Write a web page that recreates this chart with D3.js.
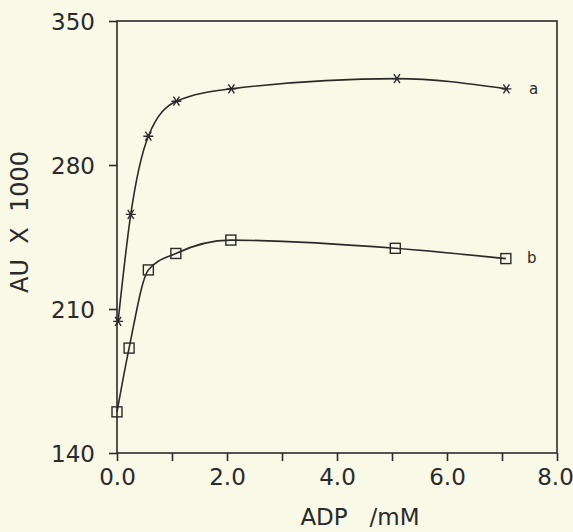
<!DOCTYPE html>
<html>
<head>
<meta charset="utf-8">
<script src="https://cdn.jsdelivr.net/npm/d3@7"></script>
<style>
  body { margin: 0; background: #f9f9e8; }
</style>
</head>
<body>
<div class="chart"></div>
<script>
// Data
const adpA = [0.02, 0.25, 0.57, 1.08, 2.08, 5.09, 7.08];
const auA  = [204, 256, 294, 311, 317, 322, 317];
const adpB = [0.0, 0.22, 0.57, 1.07, 2.07, 5.06, 7.07];
const auB  = [160, 191, 229, 237, 243.5, 239.5, 234.5];
const xTicks = [0, 2, 4, 6, 8];
const yTicks = [140, 210, 280, 350];

const width = 573;
const height = 532;
const margin = {top: 21, left: 117, right: 16, bottom: 79};

const xScale = d3.scaleLinear()
    .domain([0, 8])
    .range([margin.left, width - margin.right]);

const yScale = d3.scaleLinear()
    .domain([140, 350])
    .range([height - margin.bottom, margin.top]);

const svg = d3.select('.chart')
    .append('svg')
    .attr('width', width)
    .attr('height', height);

svg.append('rect')
    .attr('width', width)
    .attr('height', height)
    .attr('fill', '#f9f9e8');

const ink = '#2a2a2a';
const font = 'DejaVu Sans';

// axes
const xAxis = d3.axisBottom(xScale)
    .tickValues(d3.range(0, 9, 1))
    .tickSize(8)
    .tickFormat(d => xTicks.includes(d) ? d3.format('.1f')(d) : '');

const yAxis = d3.axisLeft(yScale)
    .tickValues(yTicks)
    .tickSize(8)
    .tickPadding(14);

const gx = svg.append('g')
    .attr('transform', `translate(0,${yScale(140)})`)
    .call(xAxis);

const gy = svg.append('g')
    .attr('transform', `translate(${xScale(0)},0)`)
    .call(yAxis);

[gx, gy].forEach(g => {
    g.select('.domain').remove();
    g.selectAll('line').attr('stroke', ink).attr('stroke-width', 1.6);
    g.selectAll('text')
        .attr('fill', ink)
        .attr('font-family', font)
        .attr('font-size', 23);
});
gx.selectAll('text').attr('dy', '0.95em').attr('y', 10);
gx.selectAll('text').filter(d => d === 8).attr('dx', -2);
gy.selectAll('text').attr('dy', '0.36em');

// frame
svg.append('rect')
    .attr('x', xScale(0))
    .attr('y', yScale(350))
    .attr('width', xScale(8) - xScale(0))
    .attr('height', yScale(140) - yScale(350))
    .attr('fill', 'none')
    .attr('stroke', ink)
    .attr('stroke-width', 1.6);

// curves
const line = d3.line()
    .x(d => xScale(d[0]))
    .y(d => yScale(d[1]))
    .curve(d3.curveMonotoneX);

const seriesA = adpA.map((x, i) => [x, auA[i]]);
const seriesB = adpB.map((x, i) => [x, auB[i]]);

svg.append('path')
    .datum(seriesA)
    .attr('d', line)
    .attr('fill', 'none')
    .attr('stroke', ink)
    .attr('stroke-width', 1.6);

svg.append('path')
    .datum(seriesB)
    .attr('d', line)
    .attr('fill', 'none')
    .attr('stroke', ink)
    .attr('stroke-width', 1.6);

// asterisk markers
svg.selectAll('.star')
    .data(seriesA)
    .enter()
    .append('path')
    .attr('class', 'star')
    .attr('transform', d => `translate(${xScale(d[0])},${yScale(d[1])})`)
    .attr('d', 'M-5,0H5M-3,-4.5L3,4.5M3,-4.5L-3,4.5')
    .attr('stroke', ink)
    .attr('stroke-width', 1.4);

// square markers
svg.selectAll('.sq')
    .data(seriesB)
    .enter()
    .append('rect')
    .attr('class', 'sq')
    .attr('x', d => xScale(d[0]) - 5)
    .attr('y', d => yScale(d[1]) - 5)
    .attr('width', 10)
    .attr('height', 10)
    .attr('fill', 'none')
    .attr('stroke', ink)
    .attr('stroke-width', 1.4);

// series labels
svg.append('text')
    .attr('x', 529)
    .attr('y', yScale(auA[auA.length - 1]) + 5)
    .text('a')
    .attr('font-family', font)
    .attr('font-size', 15)
    .attr('fill', ink);

svg.append('text')
    .attr('x', 527)
    .attr('y', yScale(auB[auB.length - 1]) + 4)
    .text('b')
    .attr('font-family', font)
    .attr('font-size', 15)
    .attr('fill', ink);

// axis titles
svg.append('text')
    .attr('x', 360)
    .attr('y', 525)
    .style('text-anchor', 'middle')
    .style('white-space', 'pre')
    .text('ADP   /mM')
    .attr('font-family', font)
    .attr('font-size', 23)
    .attr('fill', ink);

svg.append('text')
    .attr('transform', 'rotate(-90)')
    .attr('x', -222)
    .attr('y', 28)
    .style('text-anchor', 'middle')
    .style('white-space', 'pre')
    .text('AU  X  1000')
    .attr('font-family', font)
    .attr('font-size', 24)
    .attr('fill', ink);
</script>
</body>
</html>
